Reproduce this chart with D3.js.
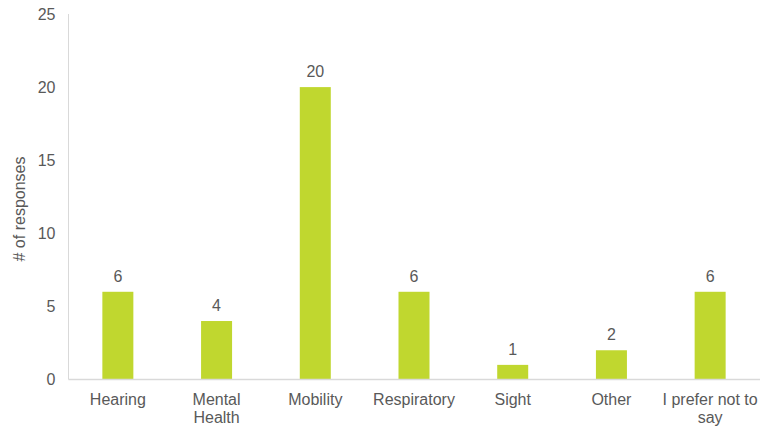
<!DOCTYPE html>
<html>
<head>
<meta charset="utf-8">
<script src="https://cdn.jsdelivr.net/npm/d3@7"></script>
<style>
  html, body { margin: 0; padding: 0; background: #fff; }
  svg { display: block; }
  text { font-family: "Liberation Sans", Arial, sans-serif; fill: #595959; }
</style>
</head>
<body>
<svg id="chart" width="760" height="428"></svg>
<script>
const categories = ["Hearing", "Mental Health", "Mobility", "Respiratory", "Sight", "Other", "I prefer not to say"];
const categoryLines = [["Hearing"], ["Mental", "Health"], ["Mobility"], ["Respiratory"], ["Sight"], ["Other"], ["I prefer not to", "say"]];
const responses = [6, 4, 20, 6, 1, 2, 6];
const yTicks = [0, 5, 10, 15, 20, 25];
const yTitle = "# of responses";

(function () {
const svg = d3.select("#chart");
const mLeft = 68.5, mRight = 759.5, mTop = 14, mBottom = 379.5;
const fs = "16px";

const x = d3.scaleBand().domain(categories).range([mLeft, mRight]).paddingInner(0.686).paddingOuter(0.343);
const y = d3.scaleLinear().domain([0, 25]).range([mBottom, mTop]);

// Y axis line
svg.append("line").attr("x1", mLeft).attr("x2", mLeft).attr("y1", y(25)).attr("y2", y(0))
  .attr("stroke", "#d9d9d9").attr("stroke-width", 1);

// Y axis tick labels
const yAxis = d3.axisLeft(y).tickValues(yTicks).tickSize(0).tickPadding(13);
const gy = svg.append("g").attr("transform", `translate(${mLeft},0)`).call(yAxis);
gy.select(".domain").remove();
gy.selectAll("text").style("font-size", fs).attr("fill", "#595959")
  .style("font-family", "'Liberation Sans', Arial, sans-serif");

// Bars
svg.append("g").selectAll("rect").data(responses).join("rect")
  .attr("x", (d, i) => x(categories[i]))
  .attr("width", x.bandwidth())
  .attr("y", d => y(d))
  .attr("height", d => y(0) - y(d))
  .attr("fill", "#c0d72f");

// Value labels
svg.append("g").selectAll("text").data(responses).join("text")
  .attr("x", (d, i) => x(categories[i]) + x.bandwidth() / 2)
  .attr("y", d => y(d) - 10)
  .attr("text-anchor", "middle")
  .style("font-size", fs)
  .text(d => d);

// Baseline
svg.append("line").attr("x1", mLeft).attr("x2", 760).attr("y1", y(0)).attr("y2", y(0))
  .attr("stroke", "#d9d9d9").attr("stroke-width", 1.5);

// X labels
const gx = svg.append("g");
categories.forEach((c, i) => {
  const cx = x(c) + x.bandwidth() / 2;
  const t = gx.append("text")
    .attr("x", cx)
    .attr("y", 405)
    .attr("text-anchor", "middle")
    .style("font-size", fs);
  categoryLines[i].forEach((ln, j) => {
    t.append("tspan").attr("x", cx).attr("dy", j === 0 ? 0 : 18).text(ln);
  });
});

// Y title
svg.append("text")
  .attr("transform", `translate(25,209) rotate(-90)`)
  .attr("text-anchor", "middle")
  .style("font-size", fs)
  .text(yTitle);
})();
</script>
</body>
</html>
